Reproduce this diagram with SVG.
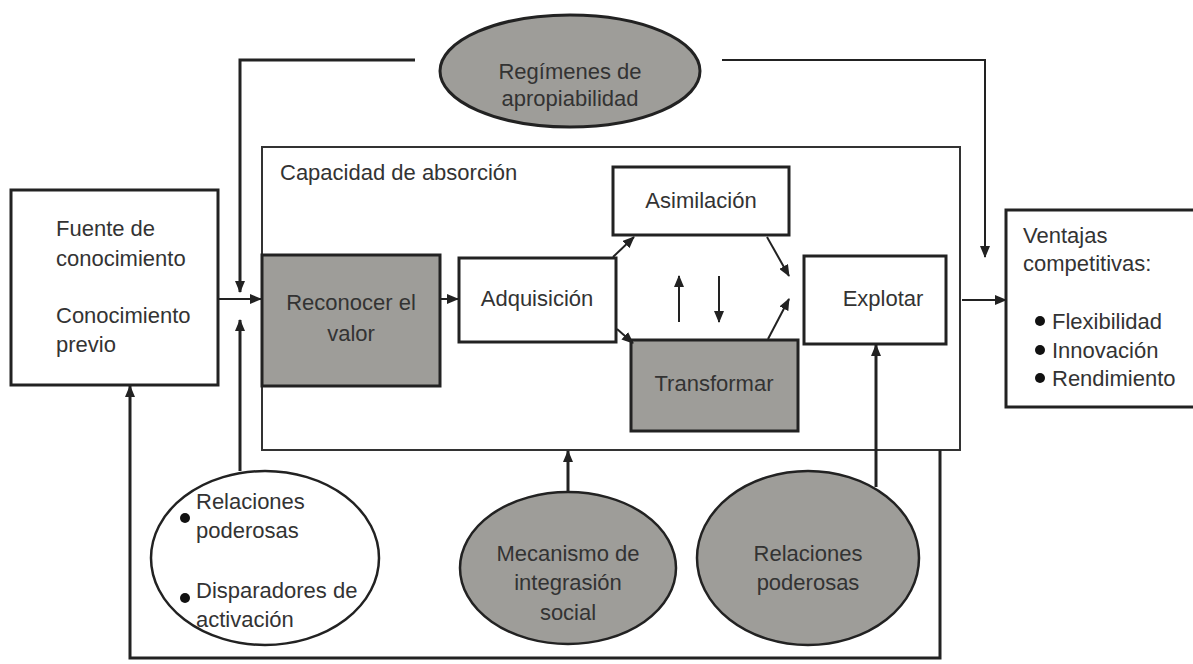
<svg xmlns="http://www.w3.org/2000/svg" width="1193" height="664" viewBox="0 0 1193 664">
<style>
text{font-family:"Liberation Sans",Arial,sans-serif;font-size:22px;fill:#333}
.c{text-anchor:middle}
.box{fill:#fff;stroke:#222;stroke-width:3}
.gbox{fill:#9e9d99;stroke:#222;stroke-width:3}
.frame{fill:none;stroke:#333;stroke-width:2}
.ln{fill:none;stroke:#222;stroke-width:2}
.lnt{fill:none;stroke:#222;stroke-width:3}
</style>
<defs>
<marker id="ah" markerWidth="12" markerHeight="10" refX="11" refY="5" orient="auto" markerUnits="userSpaceOnUse">
<path d="M0,0 L12,5 L0,10 Z" fill="#222"/>
</marker>
</defs>
<rect width="1193" height="664" fill="#fff"/>

<g id="capacidad">
<rect class="frame" x="262" y="147" width="698" height="303"/>
<text x="280" y="180">Capacidad de absorción</text>
</g>

<g id="regimenes">
<ellipse cx="570" cy="71" rx="130" ry="56" fill="#9e9d99" stroke="#222" stroke-width="3"/>
<text class="c" x="570" y="79">Regímenes de</text>
<text class="c" x="570" y="106">apropiabilidad</text>
</g>

<g id="fuente">
<rect class="box" x="11" y="190" width="207" height="195"/>
<text x="56" y="236">Fuente de</text>
<text x="56" y="266">conocimiento</text>
<text x="56" y="323">Conocimiento</text>
<text x="56" y="352">previo</text>
</g>

<g id="reconocer">
<rect class="gbox" x="262" y="255" width="178" height="131"/>
<text class="c" x="351" y="310">Reconocer el</text>
<text class="c" x="351" y="341">valor</text>
</g>

<g id="adquisicion">
<rect class="box" x="459" y="258" width="157" height="84"/>
<text class="c" x="537" y="306">Adquisición</text>
</g>

<g id="asimilacion">
<rect class="box" x="613" y="167" width="176" height="68"/>
<text class="c" x="701" y="208">Asimilación</text>
</g>

<g id="transformar">
<rect class="gbox" x="631" y="340" width="167" height="91"/>
<text class="c" x="714" y="391">Transformar</text>
</g>

<g id="explotar">
<rect class="box" x="804" y="256" width="142" height="88"/>
<text class="c" x="883" y="306">Explotar</text>
</g>

<g id="ventajas">
<rect class="box" x="1006" y="210" width="200" height="197"/>
<text x="1023" y="243">Ventajas</text>
<text x="1023" y="271">competitivas:</text>
<circle cx="1040" cy="321" r="5" fill="#111"/>
<text x="1052" y="329">Flexibilidad</text>
<circle cx="1040" cy="350" r="5" fill="#111"/>
<text x="1052" y="358">Innovación</text>
<circle cx="1040" cy="378" r="5" fill="#111"/>
<text x="1052" y="386">Rendimiento</text>
</g>

<g id="disparadores">
<ellipse cx="265" cy="558" rx="114" ry="87" fill="#fff" stroke="#222" stroke-width="2.5"/>
<circle cx="185" cy="518" r="5" fill="#111"/>
<text x="196" y="509">Relaciones</text>
<text x="196" y="538">poderosas</text>
<circle cx="185" cy="598" r="5" fill="#111"/>
<text x="196" y="598">Disparadores de</text>
<text x="196" y="627">activación</text>
</g>

<g id="mecanismo">
<ellipse cx="568" cy="568" rx="108" ry="76" fill="#9e9d99" stroke="#222" stroke-width="2.5"/>
<text class="c" x="568" y="561">Mecanismo de</text>
<text class="c" x="568" y="590">integrasión</text>
<text class="c" x="568" y="620">social</text>
</g>

<g id="relaciones">
<ellipse cx="808" cy="558" rx="111" ry="87" fill="#9e9d99" stroke="#222" stroke-width="2.5"/>
<text class="c" x="808" y="561">Relaciones</text>
<text class="c" x="808" y="590">poderosas</text>
</g>

<g id="connectors">
<polyline class="lnt" points="415,60 240,60 240,292" marker-end="url(#ah)"/>
<polyline class="ln" points="722,60 985,60 985,257" marker-end="url(#ah)"/>
<line class="ln" x1="218" y1="299" x2="261" y2="299" marker-end="url(#ah)"/>
<line class="lnt" x1="240" y1="471" x2="240" y2="320" marker-end="url(#ah)"/>
<line class="ln" x1="440" y1="299" x2="458" y2="299" marker-end="url(#ah)"/>
<line class="ln" x1="613" y1="257" x2="634" y2="237" marker-end="url(#ah)"/>
<line class="ln" x1="617" y1="329" x2="633" y2="343" marker-end="url(#ah)"/>
<line class="ln" x1="679" y1="322" x2="679" y2="276" marker-end="url(#ah)"/>
<line class="ln" x1="719" y1="276" x2="719" y2="322" marker-end="url(#ah)"/>
<line class="ln" x1="767" y1="237" x2="789" y2="276" marker-end="url(#ah)"/>
<line class="ln" x1="768" y1="339" x2="789" y2="299" marker-end="url(#ah)"/>
<line class="ln" x1="962" y1="300" x2="1006" y2="300" marker-end="url(#ah)"/>
<line class="lnt" x1="876" y1="487" x2="876" y2="345" marker-end="url(#ah)"/>
<line class="lnt" x1="568" y1="492" x2="568" y2="451" marker-end="url(#ah)"/>
<polyline class="lnt" points="940,450 940,658 130,658 130,386" marker-end="url(#ah)"/>
</g>
</svg>
